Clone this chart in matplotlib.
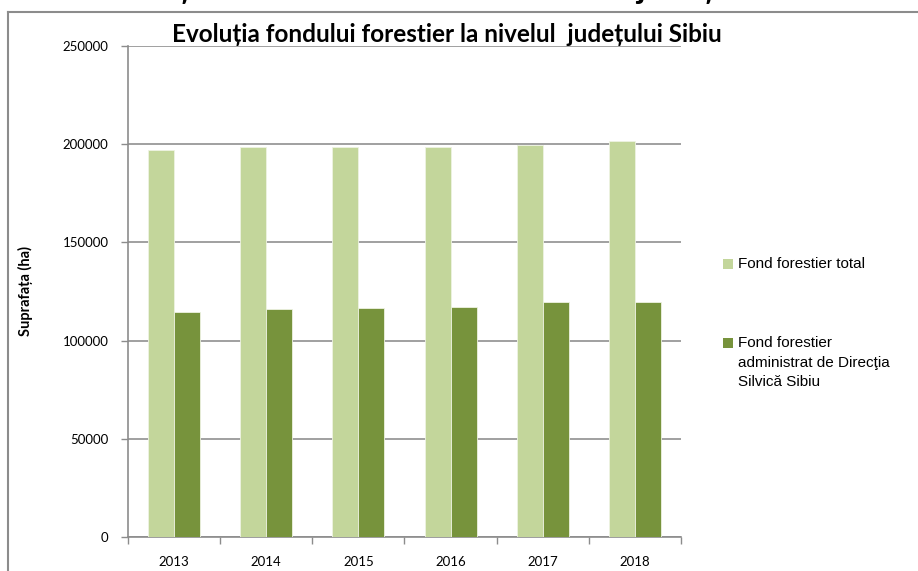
import numpy as np
import matplotlib
matplotlib.use("Agg")
import matplotlib.pyplot as plt
from matplotlib.patches import Rectangle
from matplotlib.lines import Line2D

# date: suprafata fondului forestier (ha)
ani = ["2013", "2014", "2015", "2016", "2017", "2018"]
fond_total = [197300, 198500, 198600, 198500, 199700, 201400]
fond_ds = [114700, 115900, 116600, 117300, 119600, 119600]
etichete = ["Fond forestier total",
            "Fond forestier\nadministrat de Direcţia\nSilvică Sibiu"]
titlu = "Evoluția fondului forestier la nivelul  județului Sibiu"

c_deschis = "#c3d69b"
c_inchis = "#77933c"
c_gri = "#8c8c8c"

W, H = 918, 571
fig = plt.figure(figsize=(W / 100, H / 100), dpi=100)
ax = fig.add_axes([128 / W, 1 - 537 / H, (681 - 128) / W, (537 - 46) / H])

x = np.arange(len(ani))
lat = 0.282
ax.bar(x - lat / 2, fond_total, lat, color=c_deschis, edgecolor="#eef3e2", linewidth=0.6, zorder=3)
ax.bar(x + lat / 2, fond_ds, lat, color=c_inchis, edgecolor="#eef3e2", linewidth=0.6, zorder=3)

ax.set_xlim(-0.5, len(ani) - 0.5)
ax.set_ylim(0, 250000)
ax.set_yticks(np.arange(0, 250001, 50000))
ax.set_yticklabels([str(v) for v in range(0, 250001, 50000)], family="Lato", fontsize=9.5)
ax.grid(axis="y", color="#999999", linewidth=1.3, zorder=0)

# etichetele anilor intre gradatii
ax.set_xticks(np.arange(-0.5, len(ani), 1.0))
ax.set_xticklabels([])
ax.set_xticks(x, minor=True)
ax.set_xticklabels(ani, minor=True, family="Lato", fontsize=9.5)
ax.tick_params(axis="x", which="minor", length=0, pad=14)
ax.tick_params(axis="x", which="major", length=5, color=c_gri, width=1)
ax.tick_params(axis="y", length=5, color=c_gri, width=1, pad=9)

for s in ["top", "right"]:
    ax.spines[s].set_visible(False)
for s in ["left", "bottom"]:
    ax.spines[s].set_color(c_gri)
    ax.spines[s].set_linewidth(1.2)

ax.set_ylabel("Suprafața (ha)", family="Lato", fontsize=10.5, fontweight="bold")
ax.yaxis.set_label_coords(-95 / 553, 0.5)

fig.text(447 / W, 1 - 42 / H, titlu, ha="center", va="baseline",
         family="Lato", fontsize=17.5, fontweight="bold")
# titlul repetat, taiat la marginea de sus (se vad doar codițele)
fig.text(471 / W, 1 + 0.5 / H, titlu, ha="center", va="baseline",
         family="Lato", fontsize=24, fontweight="bold")

# chenarul zonei graficului
fig.add_artist(Line2D([8 / W, 1], [1 - 12 / H, 1 - 12 / H], color=c_gri, linewidth=1.5))
fig.add_artist(Line2D([8 / W, 8 / W], [0, 1 - 12 / H], color=c_gri, linewidth=1.5))

# legenda
for culoare, text, yl in zip([c_deschis, c_inchis], etichete, [264, 343]):
    fig.add_artist(Rectangle((723 / W, 1 - (yl + 5) / H), 10 / W, 10 / H,
                             facecolor=culoare, edgecolor="none"))
    fig.text(738 / W, 1 - (yl - 7) / H, text, ha="left", va="top",
             family="Liberation Sans", fontsize=11, linespacing=1.5)

fig.savefig("out.png", dpi=100)
